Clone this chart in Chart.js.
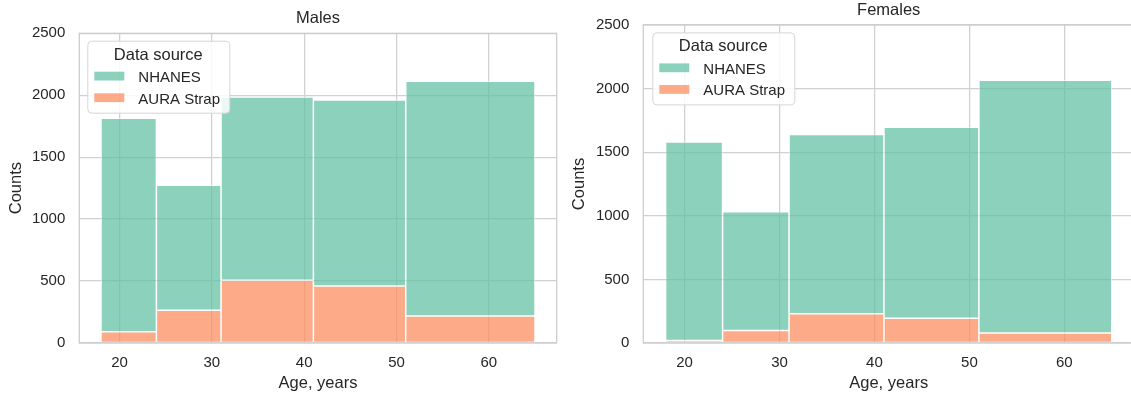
<!DOCTYPE html>
<html>
<head>
<meta charset="utf-8">
<script src="https://cdn.jsdelivr.net/npm/chart.js@4.4.1/dist/chart.umd.min.js"></script>
<style>
  html, body { margin: 0; padding: 0; background: #ffffff; overflow: hidden; width: 1131px; height: 396px; }
  #wrap { position: relative; width: 1131px; height: 396px; overflow: hidden; }
  canvas { position: absolute; top: 0; }
  #males { left: 0; }
  #females { left: 565px; }
</style>
</head>
<body>
<div id="wrap">
  <canvas id="males" width="565" height="396"></canvas>
  <canvas id="females" width="576" height="396"></canvas>
</div>
<script>
// Age bins (edges, years) shared by both panels
const binEdges = [18, 24, 31, 41, 51, 65];
const xTicks = [20, 30, 40, 50, 60];
const yTicks = [0, 500, 1000, 1500, 2000, 2500];
const sourceLabels = ['NHANES', 'AURA Strap'];

// Counts per age bin, by data source
const malesNhanes = [1723, 1009, 1480, 1501, 1895];
const malesAura = [91, 264, 506, 461, 218];
const femalesNhanes = [1561, 933, 1409, 1502, 1986];
const femalesAura = [20, 98, 230, 194, 79];

const textColor = '#262626';
const gridColor = '#d0d0d0';
const nhanesColor = 'rgba(102,194,165,0.75)';
const auraColor = 'rgba(252,141,98,0.75)';
const fontFamily = '"Liberation Sans", Arial, Helvetica, sans-serif';

Chart.defaults.font.family = fontFamily;
Chart.defaults.color = textColor;

const span = binEdges[binEdges.length - 1] - binEdges[0];
const xMin = binEdges[0] - 0.05 * span;
const xMax = binEdges[binEdges.length - 1] + 0.05 * span;

// Give each bar the full width of its (uneven) age bin
const histogramBins = {
  id: 'histogramBins',
  afterDatasetsUpdate(chart) {
    const xs = chart.scales.x;
    chart.data.datasets.forEach((ds, di) => {
      chart.getDatasetMeta(di).data.forEach((bar, i) => {
        const l = xs.getPixelForValue(binEdges[i]);
        const r = xs.getPixelForValue(binEdges[i + 1]);
        bar.x = (l + r) / 2;
        bar.width = r - l;
      });
    });
  }
};

// Light frame around the plotting area
const axesFrame = {
  id: 'axesFrame',
  afterDatasetsDraw(chart) {
    const { ctx, chartArea: a } = chart;
    ctx.save();
    ctx.strokeStyle = '#cccccc';
    ctx.lineWidth = 1.25;
    ctx.strokeRect(a.left, a.top, a.right - a.left, a.bottom - a.top);
    ctx.restore();
  }
};

// Boxed legend with a title, placed in the upper-left of the plot
const legendBox = {
  id: 'legendBox',
  afterDraw(chart, args, opts) {
    const { ctx, chartArea } = chart;
    const x0 = chartArea.left + opts.dx;
    const y0 = chartArea.top + opts.dy;
    const w = 142, h = 72;
    ctx.save();
    ctx.beginPath();
    ctx.roundRect(x0 + 0.5, y0 + 0.5, w, h, 4);
    ctx.fillStyle = 'rgba(255,255,255,0.85)';
    ctx.fill();
    ctx.strokeStyle = '#d6d6d6';
    ctx.lineWidth = 1;
    ctx.stroke();

    ctx.fillStyle = textColor;
    ctx.font = '16.5px ' + fontFamily;
    ctx.textAlign = 'center';
    ctx.textBaseline = 'alphabetic';
    ctx.fillText(opts.title, x0 + w / 2, y0 + 19);

    const items = chart.data.datasets.slice().reverse();
    items.forEach((ds, k) => {
      const py = y0 + 31 + k * 21.6;
      ctx.fillStyle = ds.backgroundColor;
      ctx.fillRect(x0 + 7, py, 30, 8.8);
      ctx.fillStyle = textColor;
      ctx.font = '15px ' + fontFamily;
      ctx.textAlign = 'left';
      ctx.fillText(ds.label, x0 + 51, py + 10.2);
    });
    ctx.restore();
  }
};

function binCenters() {
  return binEdges.slice(0, -1).map((e, i) => (e + binEdges[i + 1]) / 2);
}

function makeHistogram(canvasId, title, nhanes, aura, cfg) {
  const centers = binCenters();
  const toPoints = vals => vals.map((v, i) => ({ x: centers[i], y: v }));
  return new Chart(document.getElementById(canvasId), {
    type: 'bar',
    data: {
      datasets: [
        { label: sourceLabels[1], data: toPoints(aura), backgroundColor: auraColor },
        { label: sourceLabels[0], data: toPoints(nhanes), backgroundColor: nhanesColor }
      ]
    },
    options: {
      responsive: false,
      animation: false,
      events: [],
      devicePixelRatio: 1,
      layout: { padding: { left: 0, right: cfg.padRight, top: 0, bottom: 0 } },
      datasets: {
        bar: {
          borderColor: '#ffffff',
          borderWidth: 0.75,
          borderSkipped: false,
          inflateAmount: 0
        }
      },
      plugins: {
        legend: { display: false },
        tooltip: { enabled: false },
        title: {
          display: true,
          text: title,
          fullSize: false,
          color: textColor,
          font: { size: 16.5, weight: 'normal' },
          padding: { top: cfg.titleTop, bottom: cfg.titleBottom }
        },
        legendBox: { dx: cfg.legendDx, dy: 7.4, title: 'Data source' }
      },
      scales: {
        x: {
          type: 'linear',
          min: xMin,
          max: xMax,
          stacked: true,
          offset: false,
          afterBuildTicks: s => { s.ticks = xTicks.map(v => ({ value: v })); },
          afterFit: s => { s.height = 53; },
          grid: { color: gridColor, lineWidth: 1.25, drawTicks: false, offset: false },
          border: { display: false },
          ticks: {
            padding: 11, maxRotation: 0, autoSkip: false,
            color: textColor, font: { size: 15 },
            callback: v => String(v)
          },
          title: {
            display: true, text: 'Age, years', color: textColor,
            font: { size: 16.5 }, padding: { top: 0, bottom: 3 }
          }
        },
        y: {
          type: 'linear',
          min: 0,
          max: 2500,
          stacked: true,
          afterBuildTicks: s => { s.ticks = yTicks.map(v => ({ value: v })); },
          afterFit: s => { s.width = cfg.yWidth; },
          grid: { color: gridColor, lineWidth: 1.25, drawTicks: false },
          border: { display: false },
          ticks: {
            padding: 14, color: textColor, font: { size: 15 },
            callback: v => String(v)
          },
          title: {
            display: true, text: 'Counts', color: textColor,
            font: { size: 16.5 }, padding: { top: cfg.yTitlePad, bottom: 0 }
          }
        }
      }
    },
    plugins: [histogramBins, axesFrame, legendBox]
  });
}

makeHistogram('males', 'Males', malesNhanes, malesAura, {
  padRight: 8.3, titleTop: 9, titleBottom: 4.5, yWidth: 79.3, yTitlePad: 6.4, legendDx: 8
});
makeHistogram('females', 'Females', femalesNhanes, femalesAura, {
  padRight: 6.9, titleTop: 1, titleBottom: 4.2, yWidth: 78.3, yTitlePad: 4.1, legendDx: 9
});
</script>
</body>
</html>
